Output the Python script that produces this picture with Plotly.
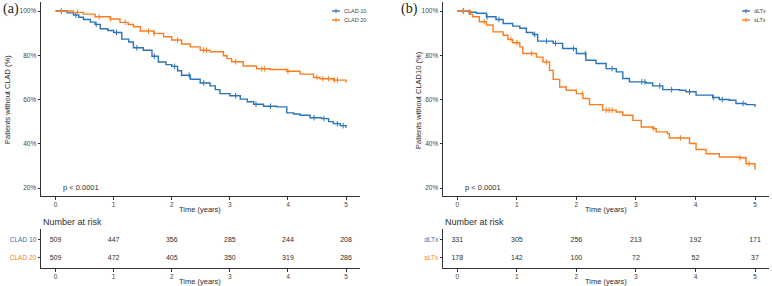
import numpy as np
import plotly.graph_objects as go

W, H = 772, 286

# ---------------- data ----------------
years = [0, 1, 2, 3, 4, 5]

clad10_t = [0, 0.2, 0.31, 0.4, 0.48, 0.6, 0.68, 0.77, 0.9, 1.0, 1.14, 1.26, 1.34, 1.51, 1.66, 1.77, 1.9, 2.0,
            2.1, 2.17, 2.32, 2.49, 2.66, 2.75, 2.83, 3.0, 3.18, 3.3, 3.41, 3.58, 3.81, 3.98, 4.1, 4.21, 4.38,
            4.58, 4.7, 4.78, 4.9, 5.0]
clad10_s = [100, 99.2, 98.2, 97.2, 96.2, 95, 94, 92, 91.2, 90.3, 87.3, 86, 83.4, 82.3, 79.6, 77, 75.8, 75,
            73, 71, 69.2, 67.5, 66.2, 64.5, 62.7, 61.7, 60.2, 59, 57.9, 57, 56.7, 54, 53.5, 52.9, 51.8,
            51.4, 50, 49.1, 48.2, 47.2]
clad20_t = [0, 0.3, 0.48, 0.68, 0.94, 1.11, 1.25, 1.34, 1.46, 1.69, 1.86, 2.0, 2.17, 2.32, 2.49, 2.66, 2.89,
            2.95, 3.03, 3.23, 3.46, 3.69, 3.98, 4.21, 4.44, 4.55, 4.78, 5.0]
clad20_s = [100, 99.4, 98.6, 97.4, 96.4, 94.9, 93.9, 92.9, 91, 89.9, 88.4, 86.9, 85.1, 83.8, 82.3, 81.6, 79.8,
            78.5, 77.1, 75.2, 73.9, 73.6, 72.8, 71.5, 70, 69.4, 68.8, 67.7]

dltx_t = [0, 0.2, 0.32, 0.49, 0.65, 0.77, 0.93, 1.05, 1.16, 1.27, 1.35, 1.61, 1.77, 2.0, 2.16, 2.33, 2.5,
          2.67, 2.78, 2.89, 3.17, 3.28, 3.45, 3.73, 3.84, 4.01, 4.29, 4.4, 4.57, 4.68, 4.85, 5.0]
dltx_s = [100, 99.5, 99, 97.4, 96.2, 94.4, 93.2, 92.2, 90.3, 89.4, 86.4, 85.4, 83.1, 80.8, 77.8, 76.3, 74,
          72.5, 69.5, 68, 67.5, 66.2, 64.5, 64.2, 63.5, 62, 60.9, 60, 59.7, 58.2, 57.7, 56.7]
sltx_t = [0, 0.22, 0.26, 0.37, 0.49, 0.6, 0.77, 0.85, 0.93, 1.05, 1.1, 1.33, 1.44, 1.55, 1.61, 1.72, 1.83,
          2.0, 2.11, 2.22, 2.44, 2.67, 2.78, 2.95, 3.09, 3.28, 3.34, 3.53, 3.56, 3.79, 3.9, 4.01, 4.18, 4.4,
          4.73, 4.85, 5.0]
sltx_s = [100, 98.5, 97.4, 95.2, 93.7, 90.6, 89.1, 87.2, 85.7, 83.8, 80.8, 79.2, 77, 73.2, 69.1, 65.7, 64.2,
          62.7, 60.5, 57.7, 55.2, 54.4, 52.9, 50.6, 47.6, 46.9, 45.4, 44.6, 42.6, 42.6, 40.1, 37.4, 35.5, 34.0,
          33.7, 31.0, 28.3]

# censoring times (estimated)
clad10_c = [0.1, 0.35, 0.7, 1.05, 1.4, 1.7, 2.05, 2.3, 2.55, 3.1, 3.45, 3.7, 4.45, 4.62, 4.85, 4.95]
clad20_c = [0.1, 0.38, 0.75, 0.95, 1.2, 1.6, 1.7, 2.1, 2.55, 2.6, 3.1, 3.55, 3.6, 4.0, 4.5, 4.6, 4.7, 4.8, 4.85]
dltx_c = [0.1, 0.2, 0.5, 0.7, 1.3, 1.5, 1.65, 1.95, 2.15, 2.6, 3.1, 3.15, 3.4, 3.6, 3.9, 4.3, 4.45, 4.8]
sltx_c = [0.1, 0.45, 0.9, 1.0, 1.25, 1.5, 2.1, 2.5, 2.55, 2.6, 3.3, 3.75, 4.75, 4.9]

risk_clad10 = [509, 447, 356, 285, 244, 208]
risk_clad20 = [509, 472, 405, 350, 319, 286]
risk_dltx = [331, 305, 256, 213, 192, 171]
risk_sltx = [178, 142, 100, 72, 52, 37]

BLUE = "#2a74bc"
ORANGE = "#fb7d1f"
TXT = "#2e2e2e"
TICK = "#444444"
FONT = "Liberation Sans"


def step_at(t, s, x):
    idx = np.searchsorted(np.array(t), np.array(x), side="right") - 1
    return list(np.array(s)[idx])


fig = go.Figure()


def km(t, s, c, color, name, xa, ya):
    fig.add_trace(go.Scatter(x=t, y=s, mode="lines", line=dict(color=color, width=1.4, shape="hv"),
                             name=name, showlegend=False, xaxis=xa, yaxis=ya, hoverinfo="skip"))
    fig.add_trace(go.Scatter(x=c, y=step_at(t, s, c), mode="markers",
                             marker=dict(symbol="line-ns", size=4, line=dict(color=color, width=1)),
                             showlegend=False, xaxis=xa, yaxis=ya, hoverinfo="skip"))


km(clad10_t, clad10_s, clad10_c, BLUE, "CLAD 10", "x", "y")
km(clad20_t, clad20_s, clad20_c, ORANGE, "CLAD 20", "x", "y")
km(dltx_t, dltx_s, dltx_c, BLUE, "dLTx", "x3", "y3")
km(sltx_t, sltx_s, sltx_c, ORANGE, "sLTx", "x3", "y3")


def table(r1, r2, xa, ya):
    fig.add_trace(go.Scatter(x=years, y=[2] * 6, mode="text", text=[str(v) for v in r1],
                             textfont=dict(size=7, color=TXT, family=FONT), showlegend=False,
                             xaxis=xa, yaxis=ya, hoverinfo="skip"))
    fig.add_trace(go.Scatter(x=years, y=[1] * 6, mode="text", text=[str(v) for v in r2],
                             textfont=dict(size=7, color=TXT, family=FONT), showlegend=False,
                             xaxis=xa, yaxis=ya, hoverinfo="skip"))


table(risk_clad10, risk_clad20, "x2", "y2")
table(risk_dltx, risk_sltx, "x4", "y4")


def px(xp):
    return xp / W


def py(yp):
    return 1 - yp / H


axis_common = dict(showline=True, linecolor="#333333", linewidth=1, ticks="outside", ticklen=2.5,
                   tickwidth=0.8, tickcolor="#333333", showgrid=False, zeroline=False,
                   tickfont=dict(size=6.5, color=TICK, family=FONT))

xa_dom = [px(41), px(360)]
xb_dom = [px(443), px(769)]
km_dom = [py(196), py(2)]
tb_dom = [py(268), py(229)]

fig.update_layout(
    width=W, height=H, margin=dict(l=0, r=0, t=0, b=0),
    paper_bgcolor="white", plot_bgcolor="white",
    xaxis=dict(domain=xa_dom, range=[-0.25, 5.24], anchor="y", tickvals=years, **axis_common),
    yaxis=dict(domain=km_dom, range=[16.4, 104.1], anchor="x", tickvals=[20, 40, 60, 80, 100],
               ticktext=["20%", "40%", "60%", "80%", "100%"], **axis_common),
    xaxis2=dict(domain=xa_dom, range=[-0.25, 5.24], anchor="y2", tickvals=years, **axis_common),
    yaxis2=dict(domain=tb_dom, range=[0.44, 2.61], anchor="x2", tickvals=[2, 1],
                ticktext=[f"<span style='color:{BLUE}'>CLAD 10</span>",
                          f"<span style='color:{ORANGE}'>CLAD 20</span>"], **axis_common),
    xaxis3=dict(domain=xb_dom, range=[-0.24, 5.235], anchor="y3", tickvals=years, **axis_common),
    yaxis3=dict(domain=km_dom, range=[16.4, 104.1], anchor="x3", tickvals=[20, 40, 60, 80, 100],
                ticktext=["20%", "40%", "60%", "80%", "100%"], **axis_common),
    xaxis4=dict(domain=xb_dom, range=[-0.24, 5.235], anchor="y4", tickvals=years, **axis_common),
    yaxis4=dict(domain=tb_dom, range=[0.44, 2.61], anchor="x4", tickvals=[2, 1],
                ticktext=[f"<span style='color:{BLUE}'>dLTx</span>",
                          f"<span style='color:{ORANGE}'>sLTx</span>"], **axis_common),
)

ann = []


def text(x, y, t, size=7.5, color=TXT, xanchor="center", angle=0, family=FONT):
    ann.append(dict(x=px(x), y=py(y), xref="paper", yref="paper", text=t, showarrow=False,
                    xanchor=xanchor, yanchor="middle", textangle=angle,
                    font=dict(size=size, color=color, family=family)))


# panel labels
text(11, 9, "(a)", size=14, color="#222222", family="Liberation Serif")
text(409, 9, "(b)", size=14, color="#222222", family="Liberation Serif")
# y titles
text(8, 100, "Patients without CLAD (%)", size=7.5, angle=-90)
text(419, 100, "Patients without CLAD10 (%)", size=7.5, angle=-90)
# x titles
text(200, 209, "Time (years)")
text(200, 281, "Time (years)")
text(606, 209, "Time (years)")
text(606, 281, "Time (years)")
# number at risk
text(41, 222, "Number at risk", size=9, xanchor="left")
text(443, 222, "Number at risk", size=9, xanchor="left")
# p values
text(61, 188, "p < 0.0001", size=7.5, xanchor="left")
text(463, 188, "p < 0.0001", size=7.5, xanchor="left")

# legends
shapes = []
for (lx, names) in [(332, ["CLAD 10", "CLAD 20"]), (742, ["dLTx", "sLTx"])]:
    for i, (nm, col) in enumerate(zip(names, [BLUE, ORANGE])):
        yy = 11 + 9 * i
        shapes.append(dict(type="line", xref="paper", yref="paper", x0=px(lx), x1=px(lx + 8),
                           y0=py(yy), y1=py(yy), line=dict(color=col, width=1.4)))
        shapes.append(dict(type="line", xref="paper", yref="paper", x0=px(lx + 4), x1=px(lx + 4),
                           y0=py(yy - 2), y1=py(yy + 2), line=dict(color=col, width=1)))
        text(lx + 10, yy, nm, size=5.5, color="#444444", xanchor="left")

fig.update_layout(annotations=ann, shapes=shapes)
fig.write_html("out.html")
